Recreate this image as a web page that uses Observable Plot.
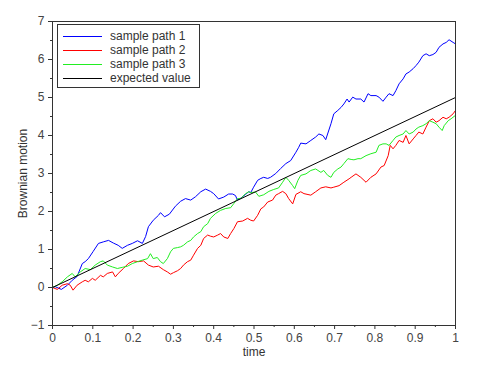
<!DOCTYPE html>
<html>
<head>
<meta charset="utf-8">
<script src="https://cdn.jsdelivr.net/npm/d3@7"></script>
<script src="https://cdn.jsdelivr.net/npm/@observablehq/plot@0.6"></script>
<style>
  body { margin: 0; background: #fff; }
  #wrap { position: relative; width: 500px; height: 366px; font-family: "Liberation Sans", Arial, sans-serif; }
  #legend { position: absolute; left: 57px; top: 24px; width: 143px; height: 64px; }
</style>
</head>
<body>
<div id="wrap"></div>
<script>
const seriesNames = ["sample path 1", "sample path 2", "sample path 3", "expected value"];
const seriesColors = ["#0000ff", "#ff0000", "#22ee22", "#000000"];

const t1 = [0,0.007,0.022,0.037,0.049,0.061,0.074,0.081,0.089,0.101,0.114,0.126,0.139,0.151,0.163,0.173,0.186,0.198,0.211,0.223,0.231,0.238,0.250,0.263,0.268,0.278,0.290,0.305,0.318,0.330,0.343,0.355,0.368,0.380,0.392,0.400,0.412,0.425,0.437,0.447,0.454,0.459,0.467,0.479,0.487,0.492,0.499,0.509,0.517,0.524,0.534,0.541,0.554,0.566,0.579,0.591,0.604,0.611,0.616,0.629,0.641,0.653,0.661,0.671,0.678,0.691,0.698,0.708,0.716,0.723,0.731,0.736,0.745,0.753,0.765,0.773,0.783,0.790,0.803,0.810,0.820,0.828,0.835,0.845,0.852,0.860,0.870,0.877,0.885,0.895,0.902,0.909,0.919,0.927,0.935,0.944,0.952,0.959,0.969,0.977,0.984,0.994,1.0];
const v1 = [0,0.02,-0.05,0.06,0.19,0.29,0.63,0.68,0.76,0.95,1.16,1.2,1.24,1.17,1.11,1.03,1.11,1.16,1.23,1.16,1.34,1.6,1.77,1.9,1.97,1.86,1.93,2.14,2.27,2.34,2.3,2.39,2.52,2.59,2.53,2.47,2.33,2.38,2.46,2.46,2.42,2.3,2.35,2.45,2.52,2.5,2.64,2.82,2.87,2.9,2.87,2.9,3.0,3.13,3.26,3.34,3.56,3.69,3.8,3.78,3.87,3.96,4.04,4.0,3.89,4.31,4.57,4.66,4.74,4.83,4.96,4.88,5.01,4.96,4.96,4.88,5.1,5.05,5.05,5.01,4.9,5.01,5.1,5.05,5.18,5.36,5.49,5.62,5.67,5.76,5.84,5.93,6.1,6.15,6.1,6.13,6.19,6.32,6.41,6.45,6.52,6.45,6.41];

const t2 = [0,0.012,0.024,0.037,0.044,0.051,0.061,0.074,0.081,0.089,0.099,0.106,0.119,0.126,0.136,0.149,0.156,0.163,0.176,0.188,0.201,0.213,0.226,0.238,0.250,0.263,0.275,0.285,0.293,0.300,0.310,0.318,0.325,0.335,0.343,0.350,0.360,0.368,0.375,0.385,0.392,0.400,0.410,0.417,0.425,0.435,0.442,0.450,0.459,0.472,0.484,0.492,0.499,0.509,0.517,0.524,0.534,0.546,0.554,0.561,0.571,0.579,0.586,0.596,0.604,0.616,0.624,0.641,0.653,0.666,0.678,0.691,0.698,0.711,0.723,0.736,0.741,0.753,0.765,0.778,0.790,0.803,0.815,0.823,0.833,0.838,0.845,0.852,0.860,0.870,0.877,0.885,0.895,0.902,0.909,0.919,0.927,0.935,0.944,0.952,0.959,0.969,0.977,0.984,0.994,1.0];
const v2 = [0,-0.05,0.06,0.1,0.06,-0.07,0.06,0.15,0.19,0.15,0.24,0.19,0.32,0.28,0.37,0.41,0.28,0.37,0.5,0.63,0.7,0.68,0.7,0.59,0.54,0.56,0.47,0.41,0.35,0.39,0.44,0.5,0.59,0.68,0.72,0.85,1.03,1.11,1.29,1.38,1.35,1.33,1.38,1.42,1.33,1.29,1.42,1.55,1.73,1.75,1.82,1.77,1.75,1.9,2.07,2.12,2.25,2.3,2.43,2.47,2.53,2.47,2.34,2.2,2.45,2.52,2.47,2.43,2.52,2.62,2.65,2.62,2.64,2.68,2.77,2.86,2.9,2.99,2.9,2.77,2.9,2.99,3.17,3.21,3.47,3.74,3.65,3.74,3.87,3.82,4.0,3.78,3.91,4.0,4.09,4.04,4.22,4.39,4.44,4.35,4.39,4.48,4.44,4.48,4.57,4.66];

const t3 = [0,0.012,0.024,0.037,0.049,0.056,0.069,0.081,0.094,0.106,0.119,0.126,0.136,0.149,0.161,0.173,0.186,0.198,0.211,0.223,0.236,0.243,0.250,0.260,0.268,0.275,0.285,0.293,0.300,0.310,0.318,0.325,0.335,0.343,0.350,0.360,0.368,0.375,0.385,0.392,0.405,0.417,0.430,0.442,0.450,0.459,0.467,0.479,0.487,0.492,0.504,0.512,0.524,0.537,0.549,0.561,0.571,0.579,0.586,0.596,0.601,0.609,0.616,0.629,0.641,0.653,0.666,0.673,0.683,0.691,0.698,0.708,0.716,0.723,0.733,0.741,0.748,0.758,0.765,0.778,0.790,0.803,0.810,0.820,0.828,0.835,0.845,0.852,0.860,0.870,0.877,0.885,0.895,0.902,0.909,0.919,0.927,0.935,0.944,0.952,0.959,0.967,0.972,0.982,0.989,1.0];
const v3 = [0,0.06,0.15,0.28,0.37,0.28,0.41,0.5,0.47,0.59,0.68,0.7,0.59,0.54,0.5,0.53,0.56,0.63,0.68,0.72,0.76,0.89,0.76,0.79,0.68,0.63,0.76,0.94,1.03,1.05,1.07,1.11,1.2,1.24,1.33,1.42,1.47,1.6,1.68,1.82,1.95,2.03,2.08,2.1,2.21,2.34,2.34,2.47,2.52,2.5,2.51,2.4,2.44,2.53,2.58,2.62,2.77,2.9,2.82,2.68,2.6,2.82,2.95,2.99,3.08,3.12,3.03,3.08,2.95,2.9,3.03,3.12,3.17,3.26,3.39,3.37,3.36,3.39,3.39,3.47,3.52,3.56,3.74,3.78,3.78,3.74,3.87,3.96,4.0,4.04,4.13,4.04,4.09,4.17,4.22,4.26,4.31,4.39,4.35,4.31,4.22,4.13,4.26,4.39,4.44,4.53];

const tE = [0, 1];
const vE = [0, 5];

const xTicks = [0,0.1,0.2,0.3,0.4,0.5,0.6,0.7,0.8,0.9,1];
const xTickLabels = ["0","0.1","0.2","0.3","0.4","0.5","0.6","0.7","0.8","0.9","1"];
const xMinor = [0.05,0.15,0.25,0.35,0.45,0.55,0.65,0.75,0.85,0.95];
const yTicks = [-1,0,1,2,3,4,5,6,7];
const yMinor = [-0.5,0.5,1.5,2.5,3.5,4.5,5.5,6.5];

const xLabel = "time";
const yLabel = "Brownian motion";

const mk = (ts, vs, name) => ts.map((t, i) => ({t, v: vs[i], name}));
const data = [
  ...mk(t1, v1, seriesNames[0]),
  ...mk(t2, v2, seriesNames[1]),
  ...mk(t3, v3, seriesNames[2]),
  ...mk(tE, vE, seriesNames[3])
];

const chart = Plot.plot({
  width: 500,
  height: 366,
  marginLeft: 52,
  marginRight: 45,
  marginTop: 21,
  marginBottom: 41,
  style: {fontFamily: "'Liberation Sans', Arial, sans-serif", fontSize: "12px", color: "#333", background: "#fff"},
  x: {domain: [0, 1]},
  y: {domain: [-1, 7]},
  color: {domain: seriesNames, range: seriesColors},
  marks: [
    Plot.line(data, {x: "t", y: "v", z: "name", stroke: "name", strokeWidth: 1}),
    Plot.frame({stroke: "#333"}),
    Plot.axisX({ticks: xTicks, tickFormat: (d, i) => xTickLabels[i], tickSize: 4, tickPadding: 4, label: null, stroke: "#333", fill: "#444"}),
    Plot.axisX({ticks: xMinor, tickFormat: null, text: null, tickSize: 2, label: null, stroke: "#333"}),
    Plot.axisY({ticks: yTicks, tickSize: 4, tickPadding: 4, label: null, stroke: "#333", fill: "#444"}),
    Plot.axisY({ticks: yMinor, text: null, tickSize: 2, label: null, stroke: "#333"}),
    Plot.text([xLabel], {frameAnchor: "bottom", dy: 30, fill: "#333", fontSize: 12}),
    Plot.text([yLabel], {frameAnchor: "left", dx: -29, rotate: -90, textAnchor: "middle", fill: "#333", fontSize: 12})
  ]
});

const wrap = document.getElementById("wrap");
wrap.appendChild(chart);

const legendDiv = document.createElement("div");
legendDiv.id = "legend";
wrap.appendChild(legendDiv);
const lsvg = d3.select(legendDiv).append("svg")
  .attr("width", 143).attr("height", 64)
  .style("display", "block");
lsvg.append("rect")
  .attr("x", 0.5).attr("y", 0.5).attr("width", 142).attr("height", 63)
  .attr("fill", "#fff").attr("stroke", "#333");
const rows = lsvg.selectAll("g.row").data(seriesNames).join("g")
  .attr("class", "row")
  .attr("transform", (d, i) => `translate(0,${12 + i * 14})`);
rows.append("line")
  .attr("x1", 6).attr("x2", 45).attr("y1", 0.5).attr("y2", 0.5)
  .attr("stroke", (d, i) => seriesColors[i])
  .attr("stroke-width", 1)
  .attr("shape-rendering", "crispEdges");
rows.append("text")
  .attr("x", 53).attr("y", 0).attr("dy", "0.35em")
  .attr("fill", "#333")
  .style("font", "12px 'Liberation Sans', Arial, sans-serif")
  .text(d => d);
</script>
</body>
</html>
